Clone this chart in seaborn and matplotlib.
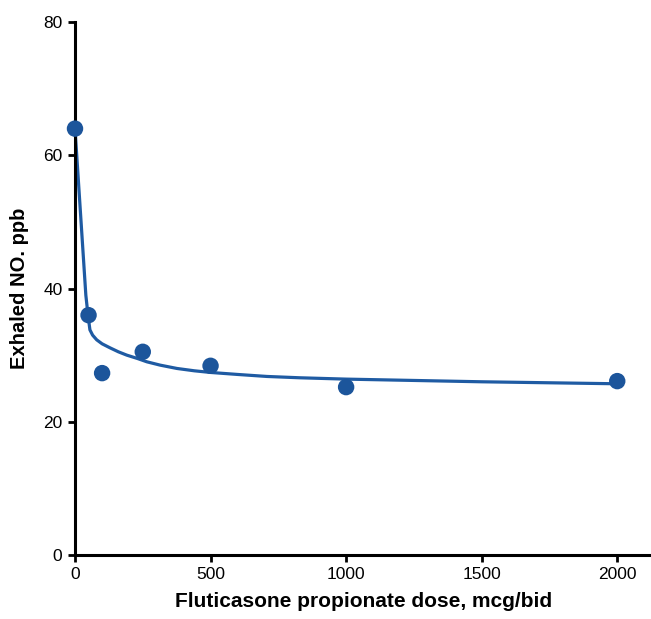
import numpy as np
import pandas as pd
import matplotlib
matplotlib.use('Agg')
import matplotlib.pyplot as plt
import seaborn as sns

# measured points
dose = [0, 50, 100, 250, 500, 1000, 2000]
exhaled_no = [64, 36, 27.3, 30.5, 28.4, 25.2, 26.1]

# fitted curve
fit_dose = [0, 20, 40, 48, 55, 65, 80, 100, 129, 160, 191, 230, 265, 314, 376, 440, 500,
            600, 708, 830, 1000, 1250, 1500, 1750, 2000]
fit_no = [64, 51.5, 39, 36, 33.8, 33.0, 32.3, 31.7, 31.1, 30.5, 30.0, 29.5, 29.0, 28.5, 28.0,
          27.65, 27.4, 27.1, 26.8, 26.6, 26.4, 26.2, 26.0, 25.85, 25.7]

pts = pd.DataFrame({'dose': dose, 'no': exhaled_no})
fit = pd.DataFrame({'dose': fit_dose, 'no': fit_no})

sns.set_style("ticks")
plt.rcParams['font.family'] = ['Liberation Sans', 'DejaVu Sans']

fig = plt.figure(figsize=(6.51, 6.19), dpi=100)
ax = fig.add_axes([0.1152, 0.1034, 0.885, 0.861])

blue = '#1f5ba3'
sns.lineplot(data=fit, x='dose', y='no', color=blue, lw=2.3, ax=ax, clip_on=False)
sns.scatterplot(data=pts, x='dose', y='no', color='#1c559b', s=140, edgecolor='none',
                ax=ax, clip_on=False, zorder=5)

ax.set_xlim(0, 2125)
ax.set_ylim(0, 80)
ax.set_xticks([0, 500, 1000, 1500, 2000])
ax.set_yticks([0, 20, 40, 60, 80])
sns.despine(ax=ax)
for s in ['left', 'bottom']:
    ax.spines[s].set_linewidth(2.2)
    ax.spines[s].set_color('black')
ax.tick_params(axis='both', length=5, width=2, colors='black', labelsize=12.5, pad=4)

ax.set_xlabel('Fluticasone propionate dose, mcg/bid', fontsize=15, fontweight='bold',
              color='black', labelpad=7)
ax.set_ylabel('Exhaled NO. ppb', fontsize=14.5, fontweight='bold', color='black', labelpad=10)

plt.savefig('out.png', dpi=100)
